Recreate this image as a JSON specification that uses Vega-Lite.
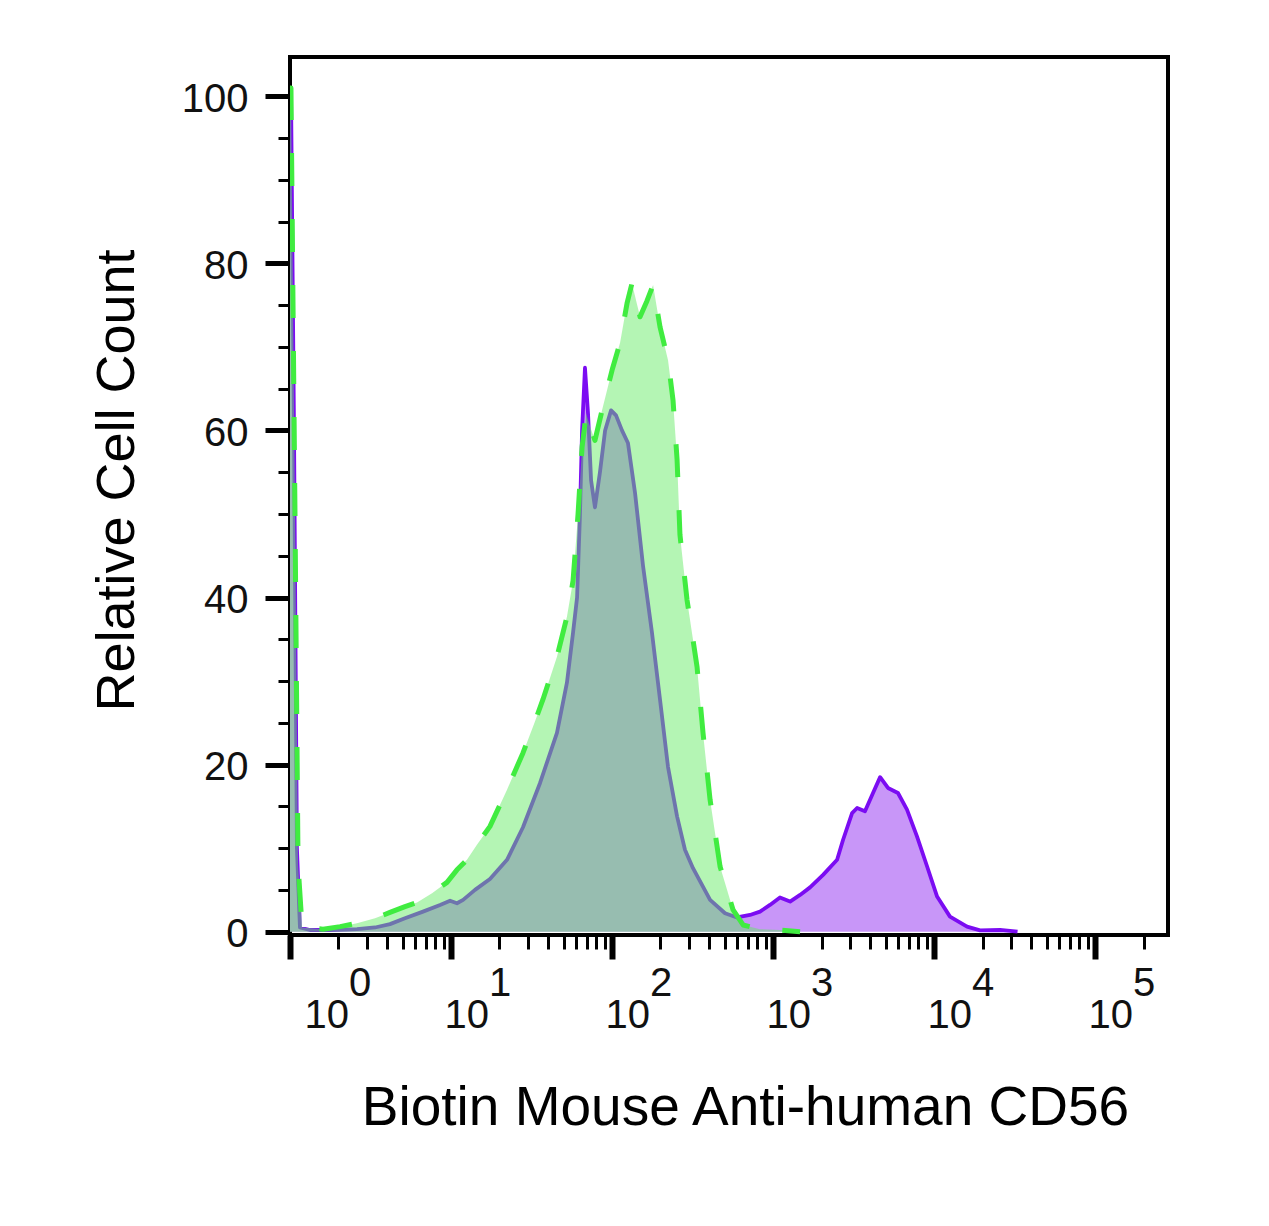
{
  "$schema": "https://vega.github.io/schema/vega-lite/v6.json",
  "width": 878,
  "height": 878,
  "autosize": {"type": "none"},
  "padding": {"left": 290, "top": 57, "right": 101, "bottom": 291},
  "background": "white",
  "config": {
    "view": {"stroke": "black", "strokeWidth": 4},
    "font": "Liberation Sans"
  },
  "datasets": {
    "purple": [
      {"x": 1.0, "count": 101}, {"x": 1.014, "count": 101}, {"x": 1.059, "count": 60}, {"x": 1.104, "count": 10},
      {"x": 1.153, "count": 0.5}, {"x": 1.33, "count": 0.2}, {"x": 1.77, "count": 0.2}, {"x": 2.606, "count": 0.3},
      {"x": 3.373, "count": 0.5}, {"x": 4.178, "count": 0.9}, {"x": 5.176, "count": 1.6}, {"x": 6.699, "count": 2.4},
      {"x": 8.551, "count": 3.2}, {"x": 9.863, "count": 3.7}, {"x": 10.89, "count": 3.4}, {"x": 11.89, "count": 3.8},
      {"x": 14.09, "count": 5.0}, {"x": 17.46, "count": 6.3}, {"x": 22.28, "count": 8.6}, {"x": 27.99, "count": 12.5},
      {"x": 35.73, "count": 17.8}, {"x": 45.5, "count": 23.8}, {"x": 52.48, "count": 29.8}, {"x": 57.28, "count": 35.8},
      {"x": 60.67, "count": 40}, {"x": 63.24, "count": 50}, {"x": 65.16, "count": 60}, {"x": 67.92, "count": 67.5},
      {"x": 70.96, "count": 62}, {"x": 74.13, "count": 54}, {"x": 78.34, "count": 50.8}, {"x": 84.14, "count": 55},
      {"x": 90.57, "count": 60}, {"x": 98.63, "count": 62.4}, {"x": 105.9, "count": 61.8}, {"x": 115.3, "count": 60},
      {"x": 125.6, "count": 58.5}, {"x": 139, "count": 52.5}, {"x": 156, "count": 43.7}, {"x": 177, "count": 35.8},
      {"x": 198.6, "count": 27.8}, {"x": 222.8, "count": 19.7}, {"x": 253.5, "count": 13.8}, {"x": 283.8, "count": 9.8},
      {"x": 318.4, "count": 7.6}, {"x": 406.4, "count": 3.8}, {"x": 503.5, "count": 2.2}, {"x": 597, "count": 1.7},
      {"x": 719.5, "count": 2.0}, {"x": 829.8, "count": 2.4}, {"x": 957.2, "count": 3.2}, {"x": 1104, "count": 4.1},
      {"x": 1276, "count": 3.6}, {"x": 1472, "count": 4.4}, {"x": 1698, "count": 5.3}, {"x": 2046, "count": 6.8},
      {"x": 2500, "count": 8.6}, {"x": 2723, "count": 11.0}, {"x": 3097, "count": 14.2}, {"x": 3327, "count": 14.8},
      {"x": 3724, "count": 14.4}, {"x": 4178, "count": 16.6}, {"x": 4624, "count": 18.5}, {"x": 5176, "count": 17.2},
      {"x": 5970, "count": 16.6}, {"x": 6792, "count": 14.6}, {"x": 7834, "count": 11.4}, {"x": 9057, "count": 7.8},
      {"x": 10447, "count": 4.2}, {"x": 12560, "count": 1.8}, {"x": 16030, "count": 0.6}, {"x": 19320, "count": 0.15},
      {"x": 25700, "count": 0.2}, {"x": 29650, "count": 0.1}, {"x": 33000, "count": 0}
    ],
    "green": [
      {"x": 1.0, "count": 101}, {"x": 1.014, "count": 101}, {"x": 1.074, "count": 50}, {"x": 1.122, "count": 8},
      {"x": 1.189, "count": 0.5}, {"x": 1.603, "count": 0.3}, {"x": 2.046, "count": 0.6}, {"x": 2.606, "count": 1.0},
      {"x": 3.373, "count": 1.6}, {"x": 4.178, "count": 2.3}, {"x": 5.176, "count": 3.0}, {"x": 6.152, "count": 3.5},
      {"x": 7.621, "count": 4.6}, {"x": 9.441, "count": 5.9}, {"x": 10.89, "count": 7.4}, {"x": 12.56, "count": 8.6},
      {"x": 14.49, "count": 10.4}, {"x": 17.46, "count": 12.6}, {"x": 22.28, "count": 17.0}, {"x": 27.99, "count": 21.4},
      {"x": 33.27, "count": 25.2}, {"x": 37.24, "count": 27.8}, {"x": 45.5, "count": 32.9}, {"x": 52.48, "count": 37.7},
      {"x": 57.28, "count": 42}, {"x": 61.52, "count": 50}, {"x": 65.16, "count": 58}, {"x": 69.02, "count": 62},
      {"x": 72.95, "count": 60.5}, {"x": 78.34, "count": 58.8}, {"x": 86.7, "count": 62.4}, {"x": 100, "count": 67.2},
      {"x": 112.2, "count": 70.5}, {"x": 123.9, "count": 75.2}, {"x": 133, "count": 77.6}, {"x": 149.3, "count": 73.6},
      {"x": 164.8, "count": 75.5}, {"x": 179.9, "count": 77.4}, {"x": 198.6, "count": 72.4}, {"x": 222.8, "count": 68.4},
      {"x": 239.3, "count": 63.6}, {"x": 253.5, "count": 56.5}, {"x": 264.2, "count": 47.5}, {"x": 292.4, "count": 39.7},
      {"x": 337.3, "count": 31.7}, {"x": 367.3, "count": 23.8}, {"x": 406.4, "count": 15.8}, {"x": 468.8, "count": 7.8},
      {"x": 564.9, "count": 2.6}, {"x": 651.6, "count": 0.8}, {"x": 829.8, "count": 0.3}, {"x": 1104, "count": 0.2},
      {"x": 1472, "count": 0}
    ]
  },
  "encoding": {
    "x": {
      "field": "x",
      "type": "quantitative",
      "scale": {"type": "log", "domain": [1, 283800], "nice": false},
      "axis": {
        "orient": "bottom",
        "values": [1, 2, 3, 4, 5, 6, 7, 8, 9, 10, 20, 30, 40, 50, 60, 70, 80, 90, 100, 200, 300, 400, 500, 600, 700, 800, 900, 1000, 2000, 3000, 4000, 5000, 6000, 7000, 8000, 9000, 10000, 20000, 30000, 40000, 50000, 60000, 70000, 80000, 90000, 100000, 200000],
        "domain": false,
        "grid": false,
        "ticks": true,
        "tickColor": "black",
        "tickSize": {"condition": {"test": "abs(log(datum.value)/LN10 - round(log(datum.value)/LN10)) < 0.001", "value": 24}, "value": 14},
        "tickWidth": {"condition": {"test": "abs(log(datum.value)/LN10 - round(log(datum.value)/LN10)) < 0.001", "value": 6}, "value": 3},
        "labelExpr": "abs(log(datum.value)/LN10 - round(log(datum.value)/LN10)) < 0.001 ? ['\u200b\u00a0\u00a0\u00a0\u00a0' + round(log(datum.value)/LN10), '10'] : ''",
        "labelAlign": "left",
        "labelBaseline": "top",
        "labelFont": "Liberation Sans",
        "labelFontSize": 40,
        "labelLineHeight": 32,
        "labelPadding": 4,
        "labelOffset": {"condition": {"test": "datum.value < 1.5", "value": 14}, "value": -7},
        "labelFlush": false,
        "labelOverlap": false,
        "labelBound": false,
        "labelColor": "#111111",
        "title": "Biotin Mouse Anti-human CD56",
        "titleFont": "Liberation Sans",
        "titleFontSize": 55,
        "titleFontWeight": "normal",
        "titleColor": "black",
        "titlePadding": 46,
        "titleX": 455
      }
    },
    "y": {
      "field": "count",
      "type": "quantitative",
      "scale": {"domain": [-0.4, 104.7], "nice": false, "zero": false},
      "axis": {
        "values": [0, 5, 10, 15, 20, 25, 30, 35, 40, 45, 50, 55, 60, 65, 70, 75, 80, 85, 90, 95, 100],
        "domain": false,
        "grid": false,
        "tickColor": "black",
        "tickSize": {"condition": {"test": "datum.value % 20 === 0", "value": 25}, "value": 12},
        "tickWidth": {"condition": {"test": "datum.value % 20 === 0", "value": 5}, "value": 3},
        "labelExpr": "datum.value % 20 === 0 ? datum.label : ''",
        "labelFont": "Liberation Sans",
        "labelFontSize": 40,
        "labelPadding": 17,
        "labelOffset": 3,
        "labelColor": "#111111",
        "labelOverlap": false,
        "labelFlush": false,
        "labelBound": false,
        "title": "Relative Cell Count",
        "titleFont": "Liberation Sans",
        "titleFontSize": 54,
        "titleFontWeight": "normal",
        "titleColor": "black",
        "titlePadding": 37,
        "titleY": 423
      }
    }
  },
  "layer": [
    {"data": {"name": "purple"}, "mark": {"type": "area", "color": "#c896f8", "opacity": 1, "clip": true}},
    {"data": {"name": "purple"}, "mark": {"type": "line", "color": "#7b0cf2", "strokeWidth": 3.8, "strokeJoin": "round", "clip": true}},
    {"data": {"name": "green"}, "mark": {"type": "area", "color": "#60ea60", "opacity": 0.47, "clip": true}},
    {"data": {"name": "green"}, "mark": {"type": "line", "color": "#40ec40", "strokeWidth": 5, "strokeDash": [33, 33], "strokeJoin": "round", "clip": true}}
  ]
}
